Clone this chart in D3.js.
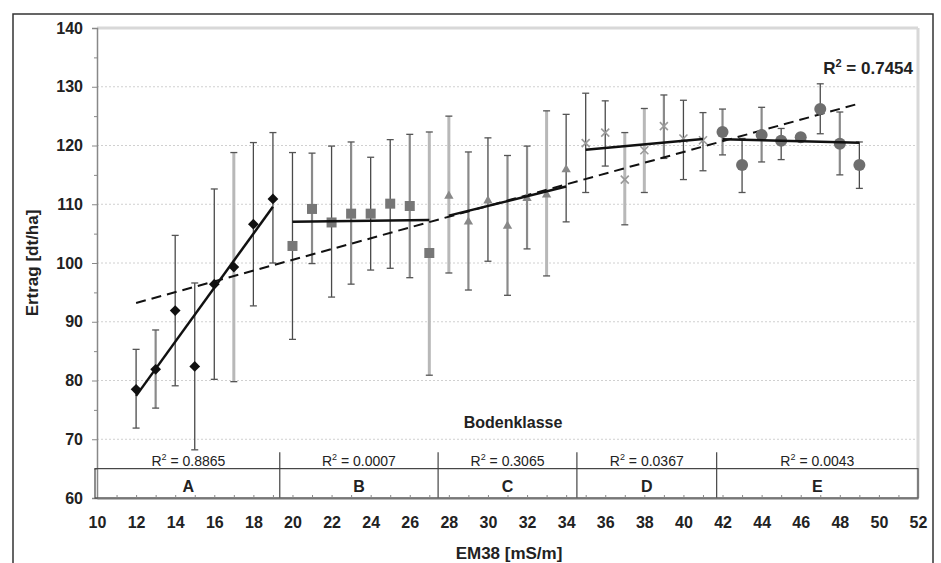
<!DOCTYPE html>
<html><head><meta charset="utf-8">
<script src="https://cdn.jsdelivr.net/npm/d3@7"></script>
<style>
html,body{margin:0;padding:0;background:#fff;}
text{font-family:"Liberation Sans",Arial,sans-serif;}
</style></head>
<body>
<svg id="chart" width="941" height="563"></svg>
<script>
// ---- data ----
const classNames = ["A","B","C","D","E"];
const classR2 = ["0.8865","0.0007","0.3065","0.0367","0.0043"];
const classBounds = [10, 19.35, 27.45, 34.55, 41.7, 52];
const globalR2 = "0.7454";

const xA = [12,13,14,15,16,17,18,19];
const yA = [78.5,81.9,91.9,82.4,96.4,99.3,106.6,110.9];
const loA = [71.9,75.3,79.1,68.2,80.2,79.8,92.7,100.0];
const hiA = [85.3,88.6,104.7,96.6,112.6,118.8,120.5,122.2];

const xB = [20,21,22,23,24,25,26,27];
const yB = [102.9,109.2,106.9,108.4,108.4,110.1,109.7,101.7];
const loB = [87.0,99.9,94.2,96.4,98.8,99.1,97.5,80.9];
const hiB = [118.8,118.7,119.9,120.6,118.0,121.0,121.9,122.3];

const xC = [28,29,30,31,32,33,34];
const yC = [111.4,107.0,110.6,106.3,111.0,111.6,115.9];
const loC = [98.3,95.4,100.3,94.5,102.4,97.8,107.0];
const hiC = [125.0,118.9,121.3,118.3,119.9,125.9,125.3];

const xD = [35,36,37,38,39,40,41];
const yD = [120.4,122.2,114.2,119.2,123.3,121.2,120.9];
const loD = [112.0,116.5,106.5,112.0,117.8,114.2,115.7];
const hiD = [128.9,127.6,122.2,126.3,128.6,127.7,125.6];

const xE = [42,43,44,45,46,47,48,49];
const yE = [122.3,116.7,121.8,120.8,121.4,126.2,120.3,116.7];
const loE = [118.4,112.0,117.2,117.6,null,122.0,115.0,112.7];
const hiE = [126.2,121.2,126.5,122.9,null,130.5,125.7,120.6];

const yTicks = [60,70,80,90,100,110,120,130,140];
const xTicks = [10,12,14,16,18,20,22,24,26,28,30,32,34,36,38,40,42,44,46,48,50,52];

// ---- styles (kept apart from data) ----
const shadeColors = ["#4a4a4a","#8a8a8a","#b8b8b8"];
const shadeWidths = [1.3,2.2,3];
const errShade = {
  A:[0,1,0,0,0,2,0,0],
  B:[0,1,0,1,0,0,1,2],
  C:[2,1,0,1,1,2,0],
  D:[0,0,2,2,1,0,0],
  E:[1,0,1,0,0,0,1,0]
};

const svg = d3.select("#chart");
const x = d3.scaleLinear().domain([10,52]).range([97,918]);
const y = d3.scaleLinear().domain([60,140]).range([498,28]);

// outer border
svg.append("rect").attr("x",13).attr("y",14).attr("width",920).attr("height",560)
  .attr("fill","none").attr("stroke","#333").attr("stroke-width",1.5);

// gridlines
svg.append("g").selectAll("line").data(yTicks.filter(v=>v>60&&v<140)).join("line")
  .attr("x1",x(10)).attr("x2",x(52)).attr("y1",d=>y(d)).attr("y2",d=>y(d))
  .attr("stroke","#d0d0d0").attr("stroke-width",1).attr("stroke-dasharray","2,2");

// plot frame top/right
svg.append("line").attr("x1",x(10)).attr("x2",x(52)).attr("y1",y(140)).attr("y2",y(140))
  .attr("stroke","#d8d8d8").attr("stroke-width",3);
svg.append("line").attr("x1",x(52)).attr("x2",x(52)).attr("y1",y(140)).attr("y2",y(60))
  .attr("stroke","#d8d8d8").attr("stroke-width",3);

// y axis
const yAxis = d3.axisLeft(y).tickValues(yTicks).tickSize(5).tickFormat(d3.format("d"));
const gy = svg.append("g").attr("transform",`translate(${x(10)},0)`).call(yAxis);
gy.select(".domain").attr("stroke","#888").attr("stroke-width",1.5);
gy.selectAll(".tick line").attr("stroke","#888");
gy.selectAll(".tick text").attr("font-size",16).attr("font-weight","bold").attr("fill","#222")
  .attr("font-family","Liberation Sans, Arial, sans-serif").attr("dx",-6);
const yMinor = d3.axisLeft(y).tickValues(d3.range(65,140,10)).tickSize(3).tickFormat("");
const gym = svg.append("g").attr("transform",`translate(${x(10)},0)`).call(yMinor);
gym.select(".domain").remove();
gym.selectAll(".tick line").attr("stroke","#888");

// class box
const boxTop = y(65), boxBot = y(60);
svg.append("rect").attr("x",x(10)-2).attr("y",boxTop).attr("width",x(52)-x(10)+2).attr("height",boxBot-boxTop)
  .attr("fill","none").attr("stroke","#444").attr("stroke-width",1.2);
svg.append("g").selectAll("line").data(classBounds.slice(1,-1)).join("line")
  .attr("x1",d=>x(d)).attr("x2",d=>x(d)).attr("y1",y(67.8)).attr("y2",boxBot)
  .attr("stroke","#444").attr("stroke-width",1.2);
const mids = classNames.map((c,i)=>(classBounds[i]+classBounds[i+1])/2);
svg.append("g").selectAll("text").data(classNames).join("text")
  .attr("x",(d,i)=>x(mids[i])).attr("y",boxBot-6).attr("text-anchor","middle")
  .attr("font-size",16).attr("font-weight","bold").attr("fill","#222").text(d=>d);
const r2g = svg.append("g").selectAll("text").data(classR2).join("text")
  .attr("x",(d,i)=>x(mids[i])).attr("y",boxTop-3).attr("text-anchor","middle")
  .attr("font-size",14).attr("fill","#222");
r2g.append("tspan").text("R");
r2g.append("tspan").attr("dy",-6).attr("font-size",9).text("2");
r2g.append("tspan").attr("dy",6).text(d=>" = "+d);

svg.append("text").attr("x",513).attr("y",428).attr("text-anchor","middle")
  .attr("font-size",16).attr("font-weight","bold").attr("fill","#222").text("Bodenklasse");

// x axis
const xAxis = d3.axisBottom(x).tickValues(xTicks).tickSize(0).tickFormat(d3.format("d"));
const gx = svg.append("g").attr("transform",`translate(0,${y(60)})`).call(xAxis);
gx.select(".domain").attr("stroke","#777").attr("stroke-width",2);
gx.selectAll(".tick text").attr("font-size",16).attr("font-weight","bold").attr("fill","#222")
  .attr("font-family","Liberation Sans, Arial, sans-serif").attr("dy",27);
const xMinor = d3.axisTop(x).tickValues(d3.range(11,52,1)).tickSize(3).tickFormat("");
const gxm = svg.append("g").attr("transform",`translate(0,${y(60)})`).call(xMinor);
gxm.select(".domain").remove();
gxm.selectAll(".tick line").attr("stroke","#888");

// axis titles
svg.append("text").attr("transform",`translate(38,263) rotate(-90)`).attr("text-anchor","middle")
  .attr("font-size",17).attr("font-weight","bold").attr("fill","#222").text("Ertrag [dt/ha]");
svg.append("text").attr("x",509).attr("y",559).attr("text-anchor","middle")
  .attr("font-size",17).attr("font-weight","bold").attr("fill","#222").text("EM38 [mS/m]");

// regression helper
function fit(xs, ys){
  const n=xs.length, mx=d3.mean(xs), my=d3.mean(ys);
  let sxy=0,sxx=0;
  for(let i=0;i<n;i++){sxy+=(xs[i]-mx)*(ys[i]-my);sxx+=(xs[i]-mx)**2;}
  const b=sxy/sxx, a=my-b*mx;
  return v=>a+b*v;
}

const groups = [
  {k:"A", xs:xA, ys:yA, lo:loA, hi:hiA},
  {k:"B", xs:xB, ys:yB, lo:loB, hi:hiB},
  {k:"C", xs:xC, ys:yC, lo:loC, hi:hiC},
  {k:"D", xs:xD, ys:yD, lo:loD, hi:hiD},
  {k:"E", xs:xE, ys:yE, lo:loE, hi:hiE}
];

// error bars
groups.forEach(g=>{
  const eg = svg.append("g");
  g.xs.forEach((xv,i)=>{
    if(g.lo[i]==null) return;
    const s = errShade[g.k][i];
    const c = shadeColors[s], w = shadeWidths[s];
    eg.append("line").attr("x1",x(xv)).attr("x2",x(xv)).attr("y1",y(g.lo[i])).attr("y2",y(g.hi[i]))
      .attr("stroke",c).attr("stroke-width",w);
    [g.lo[i],g.hi[i]].forEach(v=>{
      eg.append("line").attr("x1",x(xv)-3.5).attr("x2",x(xv)+3.5).attr("y1",y(v)).attr("y2",y(v))
        .attr("stroke","#555").attr("stroke-width",1.3);
    });
  });
});

// global dashed trend
const allX = [].concat(xA,xB,xC,xD,xE);
const allY = [].concat(yA,yB,yC,yD,yE);
const gf = fit(allX, allY);
svg.append("line").attr("x1",x(d3.min(allX))).attr("x2",x(d3.max(allX)))
  .attr("y1",y(gf(d3.min(allX)))).attr("y2",y(gf(d3.max(allX))))
  .attr("stroke","#111").attr("stroke-width",2).attr("stroke-dasharray","10,6");

// markers
const mA = svg.append("g");
mA.selectAll("path").data(xA).join("path")
  .attr("d",d3.symbol(d3.symbolSquare,58))
  .attr("transform",(d,i)=>`translate(${x(d)},${y(yA[i])}) rotate(45)`).attr("fill","#111");
const mB = svg.append("g");
mB.selectAll("path").data(xB).join("path")
  .attr("d",d3.symbol(d3.symbolSquare,100))
  .attr("transform",(d,i)=>`translate(${x(d)},${y(yB[i])})`).attr("fill","#777");
const mC = svg.append("g");
mC.selectAll("path").data(xC).join("path")
  .attr("d",d3.symbol(d3.symbolTriangle,38))
  .attr("transform",(d,i)=>`translate(${x(d)},${y(yC[i])})`).attr("fill","#888");
const mD = svg.append("g");
mD.selectAll("path").data(xD).join("path")
  .attr("d","M-4,-4L4,4M-4,4L4,-4")
  .attr("transform",(d,i)=>`translate(${x(d)},${y(yD[i])})`).attr("fill","none")
  .attr("stroke","#9a9a9a").attr("stroke-width",1.6);
const mE = svg.append("g");
mE.selectAll("circle").data(xE).join("circle")
  .attr("cx",d=>x(d)).attr("cy",(d,i)=>y(yE[i])).attr("r",6).attr("fill","#6e6e6e");

// class trend lines
groups.forEach(g=>{
  const f = fit(g.xs, g.ys);
  const x0=d3.min(g.xs), x1=d3.max(g.xs);
  svg.append("line").attr("x1",x(x0)).attr("x2",x(x1)).attr("y1",y(f(x0))).attr("y2",y(f(x1)))
    .attr("stroke","#111").attr("stroke-width",2.5);
});

// global R2 label
const gl = svg.append("text").attr("x",913).attr("y",74).attr("text-anchor","end")
  .attr("font-size",17).attr("font-weight","bold").attr("fill","#222");
gl.append("tspan").text("R");
gl.append("tspan").attr("dy",-7).attr("font-size",11).text("2");
gl.append("tspan").attr("dy",7).text(" = "+globalR2);
</script>
</body></html>
